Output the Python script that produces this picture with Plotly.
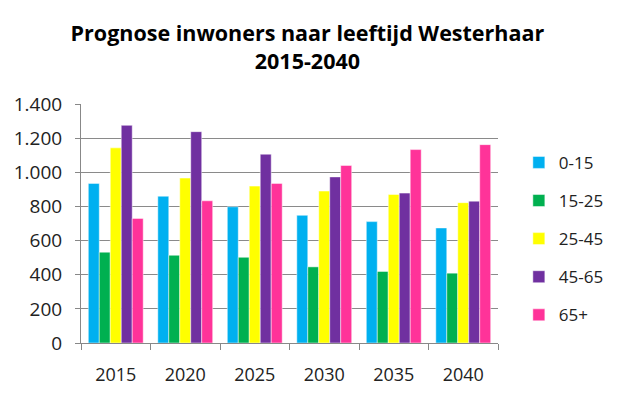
import plotly.graph_objects as go

years = ["2015", "2020", "2025", "2030", "2035", "2040"]
series_names = ["0-15", "15-25", "25-45", "45-65", "65+"]
v_0_15 = [935, 860, 798, 748, 711, 674]
v_15_25 = [532, 514, 502, 446, 419, 409]
v_25_45 = [1143, 966, 919, 890, 870, 822]
v_45_65 = [1275, 1238, 1106, 973, 878, 831]
v_65p = [730, 833, 935, 1040, 1133, 1162]
values = [v_0_15, v_15_25, v_25_45, v_45_65, v_65p]
colors = ["#00B0F0", "#00B050", "#FFFF00", "#7030A0", "#FF3399"]

fig = go.Figure()
for i, (name, vals, col) in enumerate(zip(series_names, values, colors)):
    fig.add_trace(go.Bar(
        x=years, y=vals, name=name, legendgroup=name,
        marker=dict(color=col, line=dict(color="rgba(255,255,255,0.6)", width=0.8)),
    ))

font_family = "Open Sans, sans-serif"
fig.update_layout(
    width=611, height=389,
    barmode="group", bargap=0.21, bargroupgap=0,
    separators=",.",
    paper_bgcolor="white", plot_bgcolor="white",
    margin=dict(l=73, r=121, t=96, b=54, autoexpand=False),
    font=dict(family=font_family, size=17, color="#222222"),
    title=dict(
        text="<b>Prognose inwoners naar leeftijd Westerhaar<br>2015-2040</b>",
        x=0.49, xanchor="center", y=0.915, yanchor="top",
        font=dict(family=font_family, size=21.5, color="#000000"),
    ),
    legend=dict(
        x=1.05, xanchor="left", y=0.829, yanchor="top",
        traceorder="grouped", tracegroupgap=13,
        font=dict(size=17), itemwidth=30,
    ),
    xaxis=dict(
        showline=True, linecolor="#888888", linewidth=1,
        ticks="outside", tickson="boundaries", ticklen=6, tickcolor="#888888",
        showgrid=False, tickfont=dict(size=18), ticklabelstandoff=15,
        automargin=False,
    ),
    yaxis=dict(
        range=[0, 1400], dtick=200, tickformat=",d",
        showline=True, linecolor="#888888", linewidth=1,
        ticks="outside", ticklen=5, tickcolor="#888888",
        showgrid=True, gridcolor="#8a8a8a", gridwidth=1,
        zeroline=False, tickfont=dict(size=19), ticklabelstandoff=9,
        automargin=False,
    ),
)

fig.write_html("out.html")
